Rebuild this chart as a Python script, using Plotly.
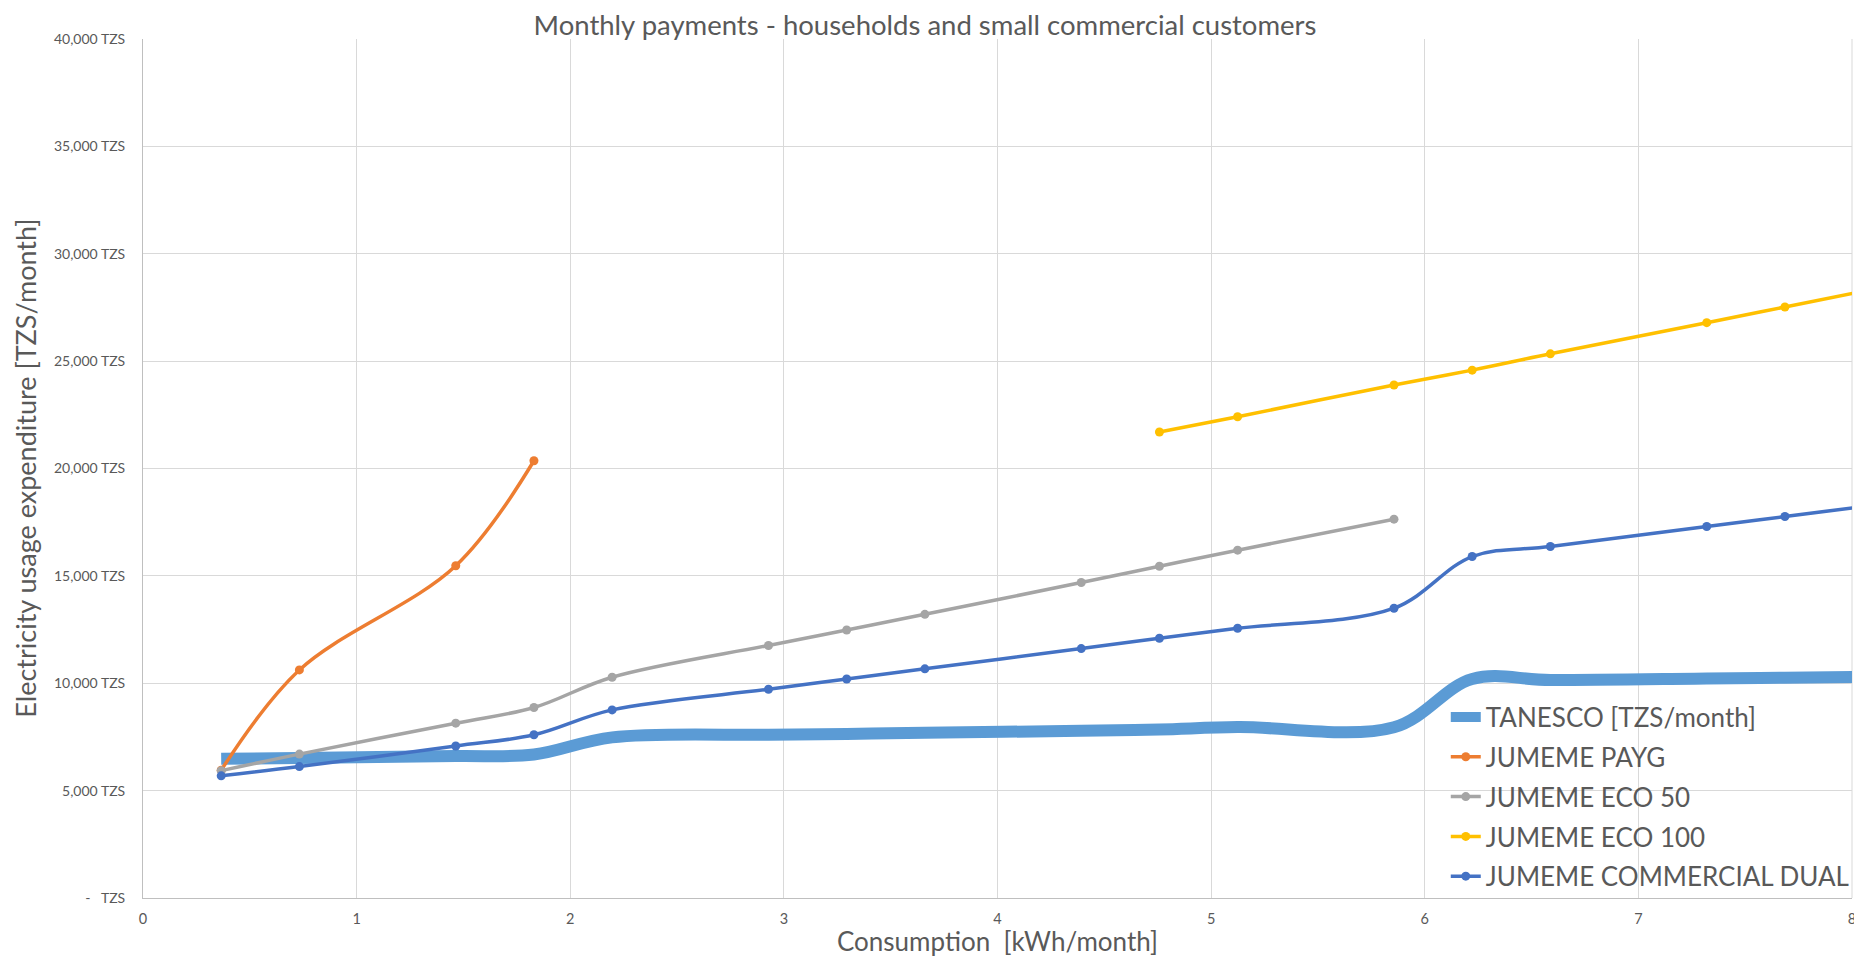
import plotly.graph_objects as go

# Consumption values (kWh/month)
x_vals = [0.366, 0.732, 1.464, 1.83, 2.196, 2.928, 3.294, 3.66, 4.392, 4.758,
          5.124, 5.856, 6.222, 6.588, 7.32, 7.686, 8.052]

tanesco = [6480, 6520, 6610, 6680, 7480, 7600, 7640, 7690, 7790, 7850,
           7960, 7950, 10200, 10150, 10220, 10260, 10300]
payg_x = x_vals[:4]
payg = [5950, 10620, 15470, 20360]
eco50_x = x_vals[:12]
eco50 = [5930, 6700, 8140, 8870, 10280, 11760, 12480, 13210, 14690, 15450, 16196, 17640]
eco100_x = x_vals[9:]
eco100 = [21700, 22410, 23890, 24580, 25340, 26790, 27520, 28250]
commercial = [5690, 6120, 7080, 7600, 8760, 9720, 10200, 10670, 11615, 12096,
              12562, 13494, 15900, 16366, 17298, 17764, 18230]

names = ["TANESCO [TZS/month]", "JUMEME PAYG", "JUMEME ECO 50",
         "JUMEME ECO 100", "JUMEME COMMERCIAL DUAL"]
colors = ["#5B9BD5", "#ED7D31", "#A5A5A5", "#FFC000", "#4472C4"]

y_ticks = [0, 5000, 10000, 15000, 20000, 25000, 30000, 35000, 40000]
y_ticktext = ["-\u00a0\u00a0\u00a0TZS"] + [f"{v:,} TZS" for v in y_ticks[1:]]
x_ticks = [0, 1, 2, 3, 4, 5, 6, 7, 8]

FONT = "Lato, 'Open Sans', sans-serif"
TXT = "#595959"
GRID = "#D9D9D9"

# figure is placed at (8, 8) in the page by the default body margin
W, H = 1854, 949
L, R, T, B = 135, 7, 31, 59
PW, PH = W - L - R, H - T - B

fig = go.Figure()
fig.add_trace(go.Scatter(x=x_vals, y=tanesco, name=names[0], mode="lines",
                         line=dict(color=colors[0], width=12, shape="spline", smoothing=1),
                         legendgroup="a"))
fig.add_trace(go.Scatter(x=payg_x, y=payg, name=names[1], mode="lines+markers",
                         line=dict(color=colors[1], width=3.5, shape="spline", smoothing=1),
                         marker=dict(size=9, color=colors[1]), legendgroup="b"))
fig.add_trace(go.Scatter(x=eco50_x, y=eco50, name=names[2], mode="lines+markers",
                         line=dict(color=colors[2], width=3.5, shape="spline", smoothing=1),
                         marker=dict(size=9, color=colors[2]), legendgroup="c"))
fig.add_trace(go.Scatter(x=eco100_x, y=eco100, name=names[3], mode="lines+markers",
                         line=dict(color=colors[3], width=3.5, shape="spline", smoothing=1),
                         marker=dict(size=9, color=colors[3]), legendgroup="d"))
fig.add_trace(go.Scatter(x=x_vals, y=commercial, name=names[4], mode="lines+markers",
                         line=dict(color=colors[4], width=3.5, shape="spline", smoothing=1),
                         marker=dict(size=9, color=colors[4]), legendgroup="e"))

fig.update_layout(
    width=W, height=H,
    margin=dict(l=L, r=R, t=T, b=B),
    paper_bgcolor="white", plot_bgcolor="white",
    font=dict(family=FONT, color=TXT),
    title=dict(text="Monthly payments - households and small commercial customers",
               x=(925 - 8) / W, xref="container", xanchor="center",
               y=1 - 17 / H, yref="container", yanchor="middle",
               font=dict(size=27.5, color=TXT, family=FONT)),
    showlegend=True,
    legend=dict(x=0.7623, xanchor="left", y=-0.003, yanchor="bottom",
                bgcolor="rgba(0,0,0,0)", font=dict(size=26, color=TXT, family=FONT),
                tracegroupgap=3, traceorder="grouped"),
    xaxis=dict(range=[0, 8], tickvals=x_ticks, showgrid=True,
               gridcolor=GRID, gridwidth=1, showline=True, linecolor="#BFBFBF",
               linewidth=1, zeroline=False, ticks="",
               tickfont=dict(size=14.5, color=TXT, family=FONT),
               ticklabelstandoff=8, fixedrange=True),
    yaxis=dict(range=[0, 40000], tickvals=y_ticks, ticktext=y_ticktext, showgrid=True,
               gridcolor=GRID, gridwidth=1, showline=True, linecolor="#BFBFBF",
               linewidth=1, zeroline=False, ticks="",
               tickfont=dict(size=14, color=TXT, family=FONT),
               ticklabelstandoff=14, fixedrange=True),
    shapes=[dict(type="line", xref="paper", yref="paper", x0=1, x1=1, y0=0, y1=1,
                 line=dict(color=GRID, width=1), layer="below")],
    annotations=[
        dict(text="Consumption  [kWh/month]", xref="paper", yref="paper",
             x=0.5, y=-43 / PH, xanchor="center", yanchor="middle",
             showarrow=False, font=dict(size=26, color=TXT, family=FONT)),
        dict(text="Electricity usage expenditure [TZS/month]", xref="paper", yref="paper",
             x=(17 - L) / PW, y=0.5, xanchor="center", yanchor="middle",
             textangle=-90, showarrow=False, font=dict(size=27, color=TXT, family=FONT)),
    ],
)

fig.write_html("out.html")
